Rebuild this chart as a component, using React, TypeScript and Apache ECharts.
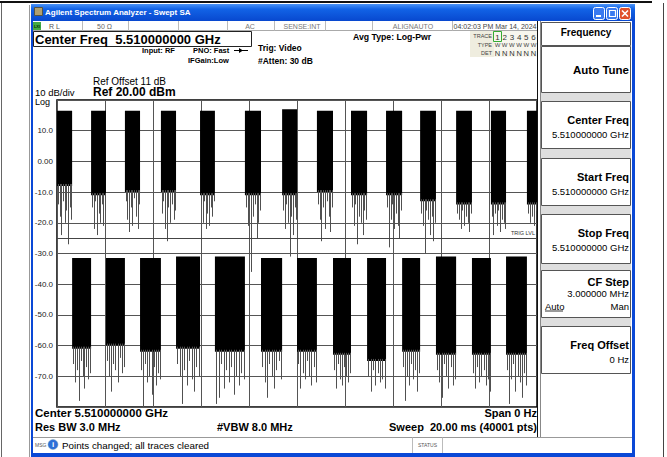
import React, { useEffect, useRef } from "react";
import * as echarts from "echarts";

// ---------- data ----------
// burst boundaries along the time axis, ms (20 ms sweep, zero span)
const boundaries = [0, 0.63, 1.42, 2.04, 2.83, 3.46, 4.33, 4.96, 5.96, 6.58, 7.83, 8.5, 9.38, 10.0, 10.83, 11.5, 12.25, 12.92, 13.71, 14.38, 15.13, 15.79, 16.63, 17.29, 18.08, 18.71, 19.58, 20];
// top of each burst, dBm (alternating high / low bursts)
const burstTop = [16.5, -31.5, 16.5, -31.5, 16.5, -31.5, 16.5, -31, 16.5, -31, 16.5, -31.5, 17, -31.5, 16.5, -31.5, 16.5, -31.5, 16.5, -31.5, 16.5, -31, 16.5, -31.5, 16.5, -31, 16.5];
// lower edge of the solid part of each burst, dBm
const burstFloor = [-8, -61, -11, -60, -10, -62, -10, -61, -11, -62, -11, -62, -11, -62, -10, -63, -11, -65, -11, -62, -13, -63, -14, -63, -14, -63, -14];
// downward noise spikes below each burst's solid part, dBm
const burstSpikes = [
  [-14, -18, -24, -13, -20, -16, -27, -15, -19],
  [-66, -72, -68, -78, -65, -70, -74, -67, -71, -69],
  [-15, -22, -13, -24, -17, -20, -14, -21, -16],
  [-65, -70, -75, -66, -68, -72, -64, -69, -67],
  [-13, -19, -23, -15, -21, -12, -18, -22, -14],
  [-68, -80, -66, -72, -70, -76, -67, -73, -69, -71],
  [-17, -13, -22, -26, -15, -20, -14, -19, -16],
  [-66, -70, -79, -68, -73, -65, -71, -75, -67, -70],
  [-14, -20, -13, -22, -17, -21, -15, -18, -13],
  [-79, -77, -66, -74, -68, -72, -67, -76, -70, -73, -69, -71],
  [-15, -21, -13, -36, -18, -14, -25, -20, -16],
  [-67, -72, -77, -66, -70, -74, -68, -65, -71],
  [-16, -22, -14, -20, -31, -18, -24, -15, -19],
  [-66, -74, -69, -71, -65, -70, -73, -67, -72],
  [-14, -19, -26, -15, -22, -13, -18, -23, -15],
  [-68, -74, -66, -71, -73, -67, -70, -72, -69],
  [-15, -21, -14, -27, -18, -20, -24, -16, -19],
  [-70, -75, -68, -73, -69, -72, -71, -74],
  [-15, -28, -19, -14, -22, -17, -21, -25, -16],
  [-67, -78, -70, -73, -66, -71, -68, -75, -69],
  [-17, -21, -30, -16, -19, -24, -18, -26, -20],
  [-68, -72, -77, -66, -70, -74, -67, -73, -71],
  [-17, -19, -22, -16, -21, -18, -20, -23, -17],
  [-69, -74, -67, -72, -70, -68, -73, -71, -75],
  [-18, -24, -17, -21, -16, -23, -19, -20, -22],
  [-68, -79, -71, -66, -75, -70, -72, -77, -69, -73],
  [-17, -20, -18, -21, -16],
];
const trigLevel = -25;
const yTickLabels: Record<string, string> = {
  "10": "10.0", "0": "0.00", "-10": "-10.0", "-20": "-20.0", "-30": "-30.0",
  "-40": "-40.0", "-50": "-50.0", "-60": "-60.0", "-70": "-70.0",
};

const softkeys = [
  { title: "Center Freq", value: "5.510000000 GHz" },
  { title: "Start Freq", value: "5.510000000 GHz" },
  { title: "Stop Freq", value: "5.510000000 GHz" },
  { title: "CF Step", value: "3.000000 MHz" },
  { title: "Freq Offset", value: "0 Hz" },
];

// ---------- helpers ----------
const FONT = "'Liberation Sans', Arial, Helvetica, sans-serif";

function txt(x: number, y: number, text: string, size: number, o: any = {}) {
  const align = o.align || "left";
  return {
    type: "text",
    x, y, z: 20,
    style: {
      text, fontSize: size, fontFamily: FONT,
      fontWeight: o.bold ? "bold" : "normal",
      fill: o.fill || "#000",
      textAlign: align, align,
      textVerticalAlign: "middle", verticalAlign: "middle",
      lineHeight: o.lineHeight,
    },
  };
}
function rect(x: number, y: number, w: number, h: number, style: any, z = 1) {
  return { type: "rect", z, shape: { x, y, width: w, height: h }, style };
}
function ln(x1: number, y1: number, x2: number, y2: number, stroke: string, w = 1, z = 3) {
  return { type: "line", z, shape: { x1, y1, x2, y2 }, style: { stroke, lineWidth: w } };
}

function buildGraphic() {
  const g: any[] = [];
  // page
  g.push(rect(0, 0, 667, 457, { fill: "#fff" }, -20));
  g.push(rect(0, 1, 652, 2, { fill: "#111" }, 2));
  g.push(ln(1.5, 3, 1.5, 457, "#666", 1));
  g.push(ln(29.5, 5, 29.5, 457, "#999", 1));
  g.push(ln(663.5, 3, 663.5, 457, "#444", 1));

  // window frame
  g.push(rect(31, 4, 604, 453, { fill: "#0a48d6" }, -10));
  g.push(rect(31, 4, 604, 17, {
    fill: new echarts.graphic.LinearGradient(0, 0, 0, 1, [
      { offset: 0, color: "#4a93f7" },
      { offset: 0.3, color: "#1263e6" },
      { offset: 1, color: "#0848cf" },
    ]),
  }, -9));
  g.push(rect(34.5, 7.5, 8, 8, { fill: "#b0a070", stroke: "#554", lineWidth: 1 }, 5));
  g.push(txt(45, 12.5, "Agilent Spectrum Analyzer - Swept SA", 8, { bold: true, fill: "#fff" }));
  // window buttons
  g.push({ type: "rect", z: 5, shape: { x: 593.5, y: 7.5, width: 11, height: 12, r: 2 }, style: { fill: "#3a7af0", stroke: "#fff", lineWidth: 1 } });
  g.push(rect(596, 15, 5, 2, { fill: "#fff" }, 6));
  g.push({ type: "rect", z: 5, shape: { x: 606.5, y: 7.5, width: 11, height: 12, r: 2 }, style: { fill: "#3a7af0", stroke: "#fff", lineWidth: 1 } });
  g.push({ type: "rect", z: 6, shape: { x: 609.5, y: 10.5, width: 6, height: 6 }, style: { fill: "none", stroke: "#fff", lineWidth: 1.2 } });
  g.push({ type: "rect", z: 5, shape: { x: 619.5, y: 7.5, width: 11, height: 12, r: 2 }, style: { fill: "#e0502c", stroke: "#fff", lineWidth: 1 } });
  g.push(ln(622, 10.5, 628, 16.5, "#fff", 1.6, 6));
  g.push(ln(628, 10.5, 622, 16.5, "#fff", 1.6, 6));

  // content area
  g.push(rect(33, 21, 599, 432, { fill: "#fff" }, -8));

  // status row
  g.push(ln(33, 30.5, 538, 30.5, "#aaa", 1));
  g.push(rect(33, 22, 8, 8, { fill: "#4a4" }, 4));
  g.push(txt(37, 26, "LXI", 4, { bold: true, fill: "#030", align: "center" }));
  [82.5, 128.5, 178.5, 227.5, 274.5, 325.5, 372.5, 452.5].forEach((x) => g.push(ln(x, 21, x, 30.5, "#bbb", 1)));
  g.push(txt(49, 26, "R L", 7, { fill: "#555" }));
  g.push(txt(97, 26, "50 Ω", 7, { fill: "#666" }));
  g.push(txt(250, 26, "AC", 7, { fill: "#777", align: "center" }));
  g.push(txt(302, 26, "SENSE:INT", 7, { fill: "#777", align: "center" }));
  g.push(txt(413, 26, "ALIGNAUTO", 7, { fill: "#777", align: "center" }));
  g.push(txt(495, 26, "04:02:03 PM Mar 14, 2024", 7, { fill: "#444", align: "center" }));

  // center freq box
  g.push(rect(33.5, 31.5, 218, 15, { fill: "#fff", stroke: "#222", lineWidth: 1 }, 2));
  g.push(txt(35, 39.5, "Center Freq  5.510000000 GHz", 13, { bold: true }));
  g.push(txt(142, 50.5, "Input: RF", 7.5, { bold: true }));
  g.push(txt(193, 50.5, "PNO: Fast", 7.5, { bold: true }));
  g.push(ln(234, 50.5, 248, 50.5, "#000", 1));
  g.push({ type: "polygon", z: 5, shape: { points: [[239, 48], [243, 50.5], [239, 53]] }, style: { fill: "#000" } });
  g.push(txt(188, 60, "IFGain:Low", 7.5, { bold: true }));
  g.push(txt(258, 47.5, "Trig: Video", 8.5, { bold: true }));
  g.push(txt(258, 61, "#Atten: 30 dB", 8.5, { bold: true }));
  g.push(txt(353, 37, "Avg Type: Log-Pwr", 8.7, { bold: true }));

  // trace box
  g.push(rect(470, 31, 24, 26, { fill: "#efeddf" }, 1));
  g.push(rect(494, 31, 44, 26, { fill: "#f7f6ee" }, 1));
  g.push(txt(492, 36, "TRACE", 5.5, { fill: "#444", align: "right" }));
  g.push(txt(492, 45, "TYPE", 5.5, { fill: "#444", align: "right" }));
  g.push(txt(492, 53, "DET", 5.5, { fill: "#444", align: "right" }));
  g.push(rect(493.5, 31.5, 8, 10, { fill: "none", stroke: "#3a3", lineWidth: 1 }, 3));
  ["1", "2", "3", "4", "5", "6"].forEach((s, i) => {
    const x = 497.5 + i * 7.2;
    g.push(txt(x, 37, s, 8, { fill: "#333", align: "center" }));
    g.push(txt(x, 45, "W", 6, { fill: "#444", align: "center" }));
    g.push(txt(x, 53, "N", 7.5, { fill: "#333", align: "center" }));
  });

  // plot annotations
  g.push(txt(93, 81, "Ref Offset 11 dB", 10));
  g.push(txt(93, 92, "Ref 20.00 dBm", 12, { bold: true }));
  g.push(txt(35, 92, "10 dB/div", 9.5, { lineHeight: 9 }));
  g.push(txt(35, 101.5, "Log", 9, { lineHeight: 8 }));

  // bottom annotations
  g.push(txt(35, 413, "Center 5.510000000 GHz", 11.5, { bold: true }));
  g.push(txt(35, 427, "Res BW 3.0 MHz", 11, { bold: true }));
  g.push(txt(217, 427, "#VBW 8.0 MHz", 11, { bold: true }));
  g.push(txt(537, 413, "Span 0 Hz", 11, { bold: true, align: "right" }));
  g.push(txt(537, 427, "Sweep  20.00 ms (40001 pts)", 11, { bold: true, align: "right" }));

  // message bar
  g.push(ln(33, 437.5, 632, 437.5, "#999", 1));
  g.push(ln(412.5, 437.5, 412.5, 453, "#bbb", 1));
  g.push(ln(442.5, 437.5, 442.5, 453, "#bbb", 1));
  g.push(txt(35, 445, "MSG", 5, { fill: "#555" }));
  g.push({ type: "circle", z: 4, shape: { cx: 53, cy: 444.5, r: 5 }, style: { fill: "#2d6fd8", stroke: "#8ab", lineWidth: 0.5 } });
  g.push(txt(53, 444.5, "i", 8, { bold: true, fill: "#fff", align: "center" }));
  g.push(txt(62, 445, "Points changed; all traces cleared", 9.8));
  g.push(txt(427.5, 445, "STATUS", 5, { fill: "#555", align: "center" }));

  // softkey panel
  g.push(ln(537.5, 21, 537.5, 437, "#111", 1));
  g.push(ln(540.5, 21, 540.5, 437, "#888", 1));
  const box = (y: number, h: number) =>
    g.push(rect(541.5, y + 0.5, 89, h, { fill: "#fff", stroke: "#555", lineWidth: 1 }, 2));
  box(22, 23);
  g.push(txt(586, 32.5, "Frequency", 10, { bold: true, align: "center" }));
  box(46, 46);
  g.push(txt(629, 70, "Auto Tune", 11.5, { bold: true, align: "right" }));
  const tops = [101, 158, 214, 270, 326];
  const heights = [47, 47, 49, 47, 47];
  const gaps = [[92, 101], [148, 158], [205, 214], [263, 270], [317, 326]];
  gaps.forEach(([a, b]) => g.push(rect(541, a + 1, 90, b - a - 1, { fill: "#dedede" }, 1)));
  softkeys.forEach((k, i) => {
    const y = tops[i];
    box(y, heights[i]);
    const isStep = i === 3;
    g.push(txt(629, y + (isStep ? 12 : 18.5), k.title, 11, { bold: true, align: "right" }));
    g.push(txt(629, y + (isStep ? 23.5 : 33), k.value, 9.5, { align: "right" }));
  });
  g.push({ type: "text", x: 545, y: 306, z: 20, style: { text: "Auto", fontSize: 9.5, fontFamily: FONT, fill: "#000", textVerticalAlign: "middle", verticalAlign: "middle" } });
  g.push(ln(545, 311, 563, 311, "#000", 0.8, 21));
  g.push(txt(629, 306, "Man", 9.5, { align: "right" }));
  return g;
}

export default function App() {
  const ref = useRef<HTMLDivElement>(null);
  useEffect(() => {
    const chart = echarts.init(ref.current!, null, { renderer: "svg" });
    const bursts = burstTop.map((v, i) => [boundaries[i], v, i]);
    chart.setOption({
      animation: false,
      backgroundColor: "#fff",
      grid: {
        left: 57, top: 100, width: 480, height: 307,
        show: true, borderColor: "#000", borderWidth: 1.5, backgroundColor: "transparent",
      },
      xAxis: {
        type: "value", min: 0, max: 20, interval: 2,
        axisLabel: { show: false }, axisTick: { show: false }, axisLine: { show: false },
        splitLine: { show: true, lineStyle: { color: "#555", width: 1 } },
      },
      yAxis: {
        type: "value", min: -80, max: 20, interval: 10,
        axisTick: { show: false }, axisLine: { show: false },
        splitLine: { show: true, lineStyle: { color: "#555", width: 1 } },
        axisLabel: {
          margin: 4, fontSize: 8, color: "#222", fontFamily: FONT,
          formatter: (v: number) => yTickLabels[String(v)] || "",
        },
      },
      graphic: { elements: buildGraphic() },
      series: [
        {
          type: "custom",
          clip: true,
          data: bursts,
          encode: { x: 0, y: 1 },
          renderItem: (params: any, api: any) => {
            const i = api.value(2) as number;
            const p0 = api.coord([boundaries[i], burstTop[i]]);
            const p1 = api.coord([boundaries[i + 1], burstFloor[i]]);
            const children: any[] = [
              { type: "rect", shape: { x: p0[0], y: p0[1], width: p1[0] - p0[0], height: p1[1] - p0[1] }, style: { fill: "#000" } },
            ];
            const sp = burstSpikes[i];
            sp.forEach((v, j) => {
              const x = Math.round(p0[0] + ((p1[0] - p0[0]) * (j + 0.5)) / sp.length) + 0.5;
              const y = api.coord([boundaries[i], v])[1];
              children.push({ type: "line", shape: { x1: x, y1: p1[1] - 2, x2: x, y2: y }, style: { stroke: "#505050", lineWidth: 1 } });
            });
            return { type: "group", children };
          },
          markLine: {
            silent: true,
            symbol: "none",
            lineStyle: { color: "#444", width: 1, type: "solid" },
            label: { show: true, position: "insideEndTop", formatter: "TRIG LVL", fontSize: 5.5, color: "#333", fontFamily: FONT, distance: 2 },
            data: [{ yAxis: trigLevel }],
          },
        },
      ],
    });
    return () => chart.dispose();
  }, []);
  return <div ref={ref} style={{ position: "fixed", left: 0, top: 0, width: 667, height: 457 }} />;
}
